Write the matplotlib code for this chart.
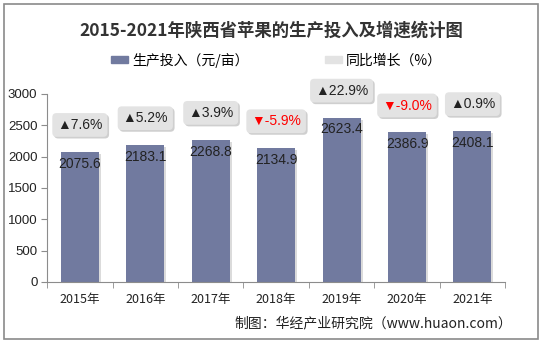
import matplotlib.pyplot as plt
import matplotlib.patheffects as pe
from matplotlib.patches import Rectangle, Patch
import numpy as np

plt.rcParams['font.family'] = ['Noto Sans CJK SC', 'DejaVu Sans']
num_font = ['Liberation Sans', 'DejaVu Sans']

years = ['2015年', '2016年', '2017年', '2018年', '2019年', '2020年', '2021年']
invest = [2075.6, 2183.1, 2268.8, 2134.9, 2623.4, 2386.9, 2408.1]
growth = [7.6, 5.2, 3.9, -5.9, 22.9, -9.0, 0.9]
yticks = [0, 500, 1000, 1500, 2000, 2500, 3000]

bar_color = '#717a9f'
axis_color = '#8c8c8c'

fig = plt.figure(figsize=(5.42, 3.43), dpi=100)
fig.patches.append(Rectangle((0.007, 0.012), 0.986, 0.976, transform=fig.transFigure,
                             fill=False, edgecolor='#8a8a8a', linewidth=1.2))

ax = fig.add_axes([0.087, 0.178, 0.845, 0.548])
x = np.arange(len(years))
bars = ax.bar(x, invest, width=0.58, color=bar_color, zorder=2)
for b in bars:
    b.set_path_effects([pe.SimplePatchShadow(offset=(1.5, -1.5), shadow_rgbFace='#cccccc', alpha=0.7),
                        pe.Normal()])

for xi, v in zip(x, invest):
    ax.text(xi, v - 190, f'{v:.1f}', ha='center', va='center', fontsize=10,
            color='#222222', family=num_font, zorder=3)

for xi, v, g in zip(x, invest, growth):
    if g >= 0:
        s, c = '▲' + f'{g:.1f}%', '#222222'
    else:
        s, c = '▼' + f'{g:.1f}%', '#ff0000'
    ax.text(xi, v + 430, s, ha='center', va='center', fontsize=10, color=c,
            family=num_font, clip_on=False, zorder=4,
            bbox=dict(boxstyle='round,pad=0.35,rounding_size=0.3', fc='#e3e3e3', ec='none',
                      path_effects=[pe.SimplePatchShadow(offset=(1.2, -1.2), shadow_rgbFace='#bbbbbb', alpha=0.7),
                                    pe.Normal()]))

ax.set_xlim(-0.5, len(years) - 0.5)
ax.set_ylim(0, 3000)
ax.set_yticks(yticks)
ax.set_yticklabels([str(t) for t in yticks], fontsize=9.5, family=num_font)
ax.set_xticks(x)
ax.set_xticklabels(years, fontsize=9)
ax.set_xticks(np.arange(-0.5, len(years)), minor=True)
ax.tick_params(axis='x', which='major', length=0, pad=8, colors='#222222')
ax.tick_params(axis='x', which='minor', length=4, color=axis_color)
ax.tick_params(axis='y', length=4, color=axis_color, colors='#222222', pad=3)
for side in ['top', 'right']:
    ax.spines[side].set_visible(False)
for side in ['left', 'bottom']:
    ax.spines[side].set_color(axis_color)

fig.text(0.5, 0.912, '2015-2021年陕西省苹果的生产投入及增速统计图', ha='center', va='center',
         fontsize=12.5, fontweight='bold', color='#333333')

handles = [Patch(color=bar_color), Patch(color='#e3e3e3')]
fig.legend(handles, ['生产投入（元/亩）', '同比增长（%）'], loc='center', bbox_to_anchor=(0.51, 0.825),
           ncol=2, frameon=False, fontsize=10, handlelength=1.2, handleheight=0.35,
           handletextpad=0.3, columnspacing=5.5)

fig.text(0.945, 0.058, '制图：华经产业研究院（www.huaon.com）', ha='right', va='center',
         fontsize=10, color='#222222')

fig.savefig('out.png', dpi=100)
